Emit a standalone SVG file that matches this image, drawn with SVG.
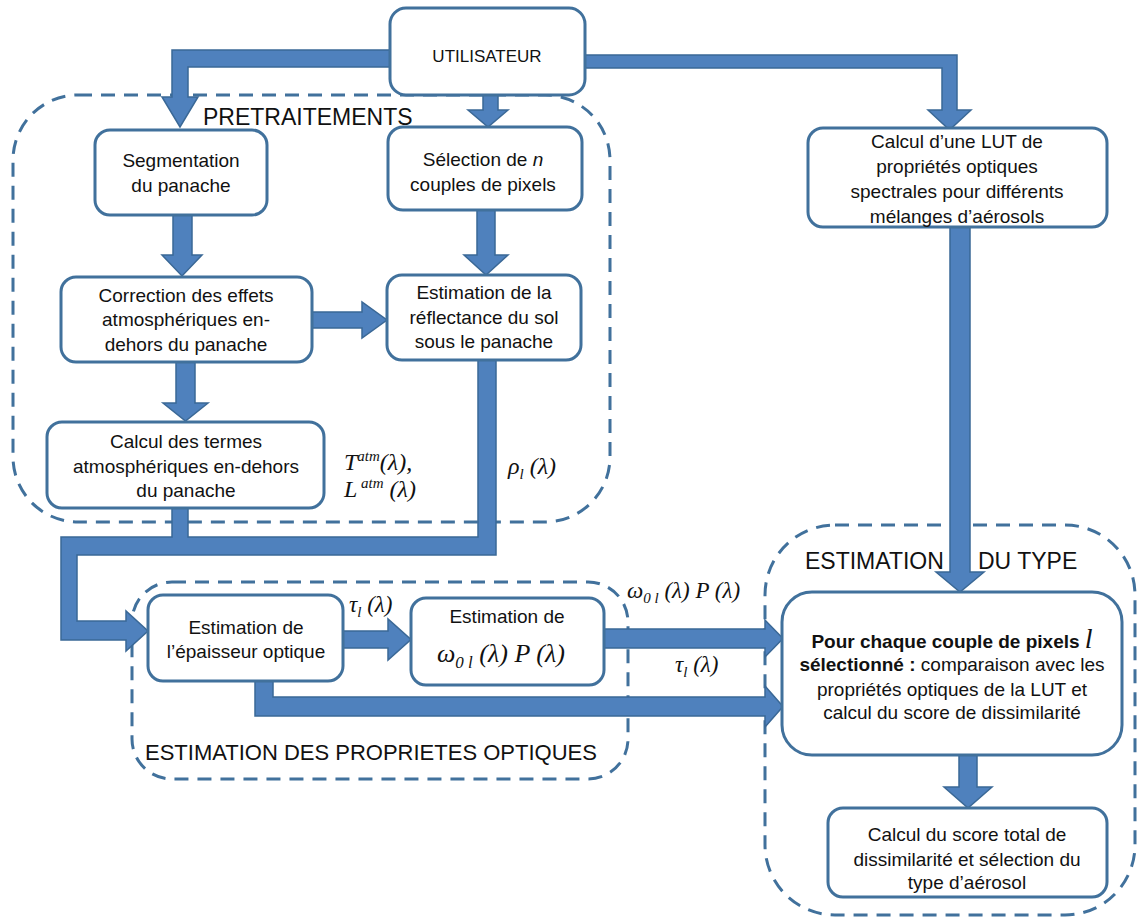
<svg xmlns="http://www.w3.org/2000/svg" width="1137" height="919" viewBox="0 0 1137 919">
<style>
.bg{fill:#ffffff}
.grp{fill:none;stroke:#41719C;stroke-width:3;stroke-dasharray:14 9}
.box{fill:#ffffff;stroke:#41719C;stroke-width:3}
.arr{fill:#4F81BD;stroke:#3A6896;stroke-width:1.5;stroke-linejoin:miter}
.t{font-family:"Liberation Sans",Arial,sans-serif;font-size:19px;fill:#111;text-anchor:middle}
.h{font-family:"Liberation Sans",Arial,sans-serif;font-size:23px;fill:#111}
.m{font-family:"Liberation Serif","Times New Roman",serif;font-style:italic;fill:#111}
.b{font-weight:bold}
</style>
<rect class="bg" x="0" y="0" width="1137" height="919"/>

<g id="groups">
  <rect class="grp" x="13" y="95" width="597" height="427" rx="65"/>
  <rect class="grp" x="132" y="582" width="496" height="197" rx="40"/>
  <rect class="grp" x="765" y="525" width="370" height="390" rx="70"/>
  <text class="h" x="203" y="125">PRETRAITEMENTS</text>
  <text class="h" x="145" y="760" style="font-size:22px">ESTIMATION DES PROPRIETES OPTIQUES</text>
  <text class="h" y="569"><tspan x="805">ESTIMATION</tspan><tspan x="978">DU TYPE</tspan></text>
</g>

<g id="connectors">
  <polygon class="arr" points="390,50 172,50 172,97 162,97 180,127 198,97 188,97 188,67 390,67"/>
  <polygon class="arr" points="483,95 483,110 468,110 488,127 508,110 498,110 498,95"/>
  <polygon class="arr" points="585,55 957,55 957,110 971,110 949.5,130 928,110 942,110 942,68 585,68"/>
  <polygon class="arr" points="173,215 192,215 192,255 202,255 182,276 162,255 173,255"/>
  <polygon class="arr" points="477,210 495,210 495,255 508,255 486,275 464,255 477,255"/>
  <polygon class="arr" points="312,312 362,312 362,302 387,320 362,338 362,328 312,328"/>
  <polygon class="arr" points="176,362 195,362 195,403 208,403 185.5,421 163,403 176,403"/>
  <polygon class="arr" points="61,537 172,537 172,508 188,508 188,537 478,537 478,360 496,360 496,555 77,555 77,621 126,621 126,611 148,631 126,651 126,640 61,640"/>
  <polygon class="arr" points="343,631 388,631 388,619 411,639.5 388,660 388,648 343,648"/>
  <polygon class="arr" points="604,629 765,629 765,620 783,638.5 765,657 765,648 604,648"/>
  <polygon class="arr" points="255,681 273,681 273,697 765,697 765,686 783,706.5 765,727 765,716 255,716"/>
  <polygon class="arr" points="950,227 970,227 970,572 984,572 960,592 936,572 950,572"/>
  <polygon class="arr" points="959,755 977,755 977,787 992,787 968,808 944,787 959,787"/>
  <text class="m" x="344" y="470" style="font-size:24px">T<tspan dy="-9" style="font-size:15px">atm</tspan><tspan dy="9">(λ),</tspan></text>
  <text class="m" x="344" y="497" style="font-size:24px">L<tspan dy="-9" style="font-size:15px"> atm</tspan><tspan dy="9"> (λ)</tspan></text>
  <text class="m" x="508" y="474" style="font-size:24px">ρ<tspan dy="5" style="font-size:15px">l</tspan><tspan dy="-5"> (λ)</tspan></text>
  <text class="m" x="349" y="612" style="font-size:23px">τ<tspan dy="5" style="font-size:15px">l</tspan><tspan dy="-5"> (λ)</tspan></text>
  <text class="m" x="627" y="598" style="font-size:23px">ω<tspan dy="5" style="font-size:15px">0 l</tspan><tspan dy="-5"> (λ)  P (λ)</tspan></text>
  <text class="m" x="675" y="672" style="font-size:23px">τ<tspan dy="5" style="font-size:15px">l</tspan><tspan dy="-5"> (λ)</tspan></text>
</g>

<g id="n-utilisateur">
  <rect class="box" x="390" y="8" width="195" height="87" rx="16"/>
  <text class="t" x="487" y="62" style="font-size:17px">UTILISATEUR</text>
</g>
<g id="n-segmentation">
  <rect class="box" x="95" y="130" width="172" height="85" rx="15"/>
  <text class="t" x="181" y="167">Segmentation</text>
  <text class="t" x="181" y="192">du panache</text>
</g>
<g id="n-selection">
  <rect class="box" x="388" y="127" width="194" height="83" rx="15"/>
  <text class="t" x="483" y="166">Sélection de <tspan font-style="italic">n</tspan></text>
  <text class="t" x="483" y="191">couples de pixels</text>
</g>
<g id="n-lut">
  <rect class="box" x="808" y="128" width="299" height="99" rx="15"/>
  <text class="t" x="957" y="148">Calcul d’une LUT de</text>
  <text class="t" x="957" y="173">propriétés optiques</text>
  <text class="t" x="957" y="198">spectrales pour différents</text>
  <text class="t" x="957" y="223">mélanges d’aérosols</text>
</g>
<g id="n-correction">
  <rect class="box" x="61" y="277" width="251" height="85" rx="15"/>
  <text class="t" x="186" y="302">Correction des effets</text>
  <text class="t" x="186" y="326">atmosphériques en-</text>
  <text class="t" x="186" y="351">dehors du panache</text>
</g>
<g id="n-reflectance">
  <rect class="box" x="387" y="275" width="194" height="85" rx="15"/>
  <text class="t" x="484" y="299">Estimation de la</text>
  <text class="t" x="484" y="324">réflectance du sol</text>
  <text class="t" x="484" y="348">sous le panache</text>
</g>
<g id="n-termes">
  <rect class="box" x="47" y="422" width="277" height="86" rx="15"/>
  <text class="t" x="186" y="448">Calcul des termes</text>
  <text class="t" x="186" y="473">atmosphériques en-dehors</text>
  <text class="t" x="186" y="497">du panache</text>
</g>
<g id="n-epaisseur">
  <rect class="box" x="148" y="595" width="195" height="86" rx="15"/>
  <text class="t" x="246" y="634">Estimation de</text>
  <text class="t" x="246" y="658">l’épaisseur optique</text>
</g>
<g id="n-omega">
  <rect class="box" x="411" y="598" width="193" height="87" rx="15"/>
  <text class="t" x="507" y="623">Estimation de</text>
  <text class="m" x="437" y="662" style="font-size:26px">ω<tspan dy="6" style="font-size:17px">0 l</tspan><tspan dy="-6"> (λ)  P (λ)</tspan></text>
</g>
<g id="n-comparaison">
  <rect class="box" x="782" y="592" width="340" height="163" rx="30"/>
  <text class="t" x="952" y="648"><tspan class="b">Pour chaque couple de pixels </tspan><tspan class="m" style="font-size:28px">l</tspan></text>
  <text class="t" x="952" y="671"><tspan class="b">sélectionné :</tspan> comparaison avec les</text>
  <text class="t" x="952" y="696">propriétés optiques de la LUT et</text>
  <text class="t" x="952" y="719">calcul du score de dissimilarité</text>
</g>
<g id="n-score">
  <rect class="box" x="828" y="808" width="279" height="89" rx="15"/>
  <text class="t" x="967" y="841">Calcul du score total de</text>
  <text class="t" x="967" y="866">dissimilarité et sélection du</text>
  <text class="t" x="967" y="889">type d’aérosol</text>
</g>
</svg>
